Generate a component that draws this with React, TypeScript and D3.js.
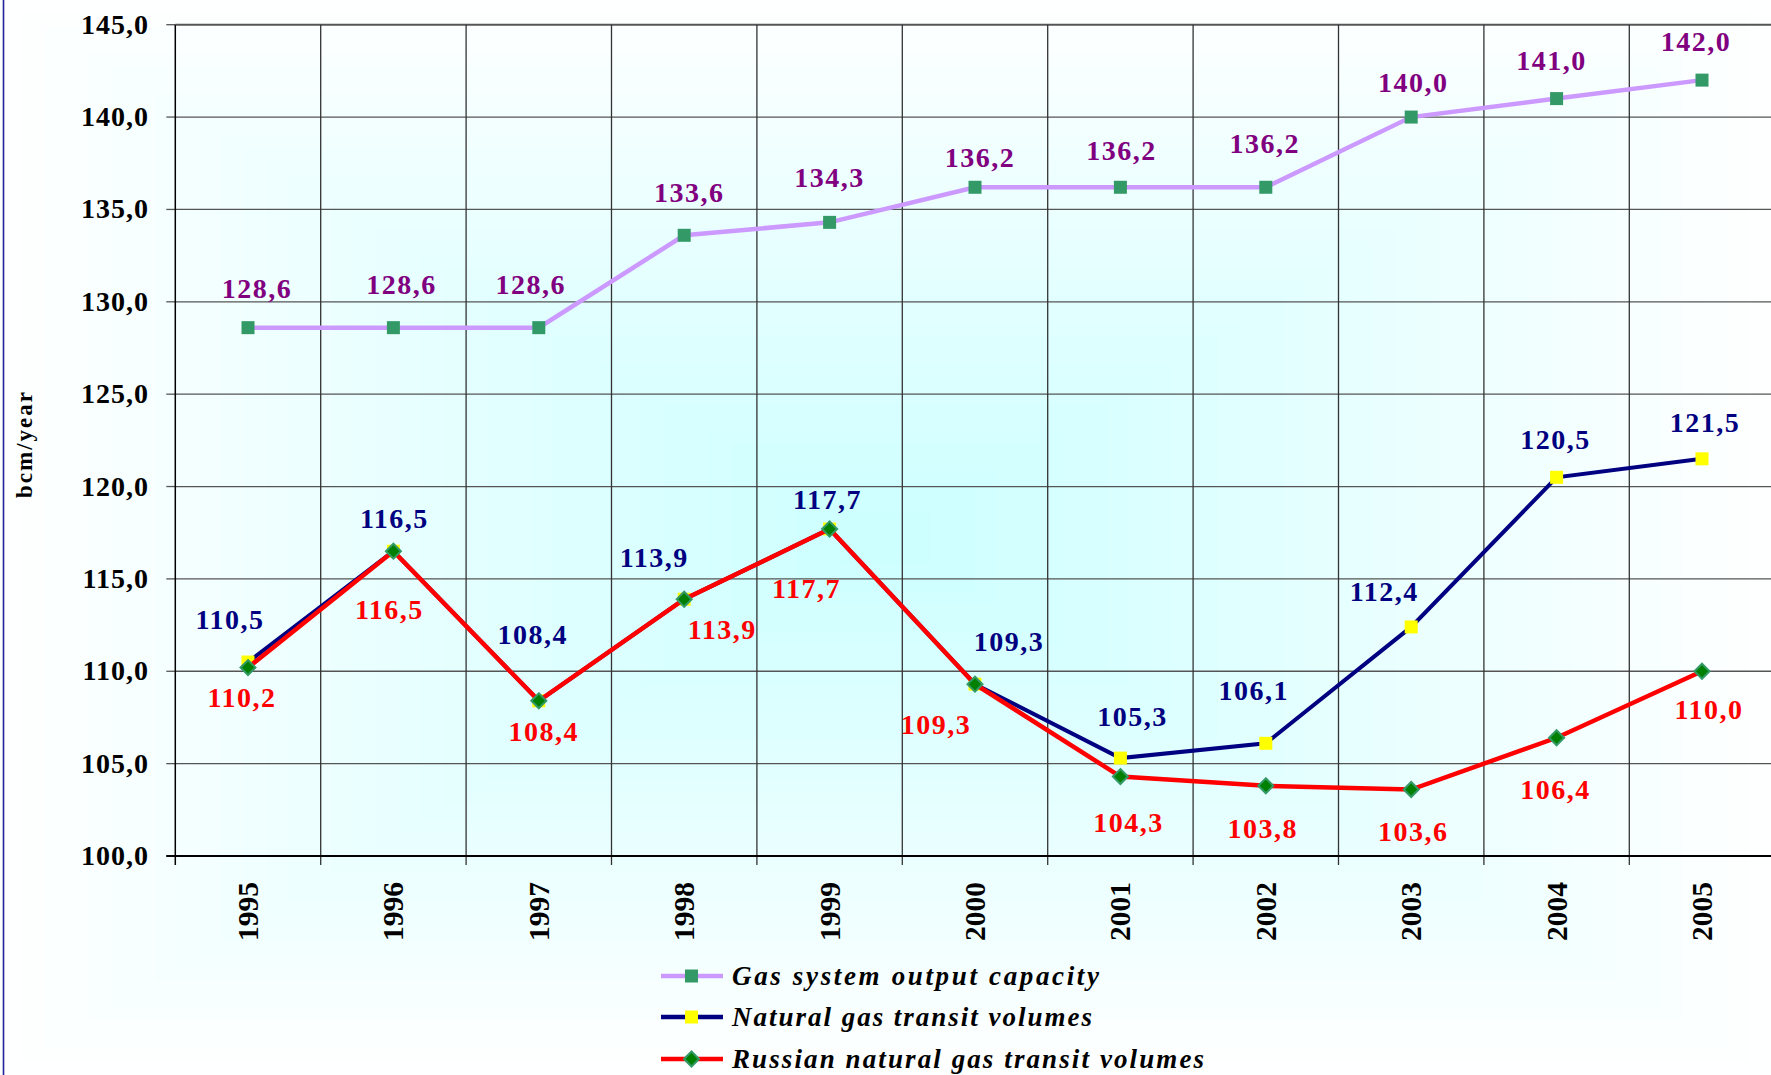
import React from 'react';
import * as d3 from 'd3';

const years = ['1995', '1996', '1997', '1998', '1999', '2000', '2001', '2002', '2003', '2004', '2005'];
const capacity = [128.6, 128.6, 128.6, 133.6, 134.3, 136.2, 136.2, 136.2, 140.0, 141.0, 142.0];
const transit = [110.5, 116.5, 108.4, 113.9, 117.7, 109.3, 105.3, 106.1, 112.4, 120.5, 121.5];
const russian = [110.2, 116.5, 108.4, 113.9, 117.7, 109.3, 104.3, 103.8, 103.6, 106.4, 110.0];
const yTicks = [100, 105, 110, 115, 120, 125, 130, 135, 140, 145];
const seriesNames = ['Gas system output capacity', 'Natural gas transit volumes', 'Russian natural gas transit volumes'];

// label offsets (px) relative to the point
const capDx = [9, 8, -8, 5, 0, 5, 1, -1, 2, -5, -6];
const capDy = [-39, -43, -43, -43, -45, -30, -37, -44, -35, -38, -39];
const trDx = [-18, 1, -6, -30, -2, 34, 12, -12, -27, -1, 3];
const trDy = [-43, -33, -66, -42, -30, -43, -42, -53, -35, -38, -36];
const ruDx = [-6, -4, 5, 38, -23, -39, 8, -3, 2, -1, 7];
const ruDy = [30, 58, 31, 30, 59, 40, 46, 43, 42, 52, 38];

const FONT = '"Liberation Serif", "Times New Roman", serif';

export default function App() {
  const W = 1771, H = 1075;
  const left = 175.3, right = 1774.7, top = 24.7, bottom = 856;
  const x = d3.scaleBand<string>().domain(years).range([left, right]);
  const y = d3.scaleLinear().domain([100, 145]).range([bottom, top]);
  const px = (i: number) => (x(years[i]) as number) + x.bandwidth() / 2;
  const line = d3.line<number>().x((_, i) => px(i)).y((d) => y(d));
  const fmt = (v: number) => d3.format('.1f')(v).replace('.', ',');

  // rectangular "from center" gradient as nested bands
  const N = 40;
  const cxB = W / 2, cyB = H / 2;
  const interp = d3.interpolateRgb('#ffffff', '#ccffff');
  const bands = d3.range(N).map((i) => {
    const t = i / N;
    const s = 1 - t;
    return { x: cxB - cxB * s, y: cyB - cyB * s, w: W * s, h: H * s, fill: interp(t + 0.5 / N) };
  });

  const boundaries = d3.range(years.length + 1).map((i) => left + i * x.step());

  const diamond = (r: number) => `M0,${-r}L${r},0L0,${r}L${-r},0Z`;

  const labelStyle = { fontFamily: FONT, fontWeight: 700, fontSize: 28, letterSpacing: 1.5 } as const;

  const legendRows = [976, 1017, 1059];
  const legendWidths = [367, 360, 472];

  return (
    <svg width={W} height={H} style={{ position: 'absolute', left: 0, top: 0, display: 'block' }}>
      <g shapeRendering="crispEdges">
        {bands.map((b, i) => (
          <rect key={i} x={b.x} y={b.y} width={b.w} height={b.h} fill={b.fill} />
        ))}
      </g>
      {/* left frame line */}
      <line x1={3.5} x2={3.5} y1={0} y2={H} stroke="#22229a" strokeWidth={1.6} />

      {/* horizontal gridlines */}
      {yTicks.filter((t) => t !== 100).map((t) => (
        <line key={t} x1={left} x2={right} y1={y(t)} y2={y(t)} stroke="#555" strokeWidth={t === 145 ? 2 : 1.3} />
      ))}
      {/* vertical gridlines */}
      {boundaries.slice(1).map((b, i) => (
        <line key={i} x1={b} x2={b} y1={top} y2={bottom + 9} stroke="#333" strokeWidth={1.3} />
      ))}
      {/* y ticks */}
      {yTicks.map((t) => (
        <line key={t} x1={left - 9} x2={left} y1={y(t)} y2={y(t)} stroke="#555" strokeWidth={1.3} />
      ))}
      {/* axes */}
      <line x1={left} x2={left} y1={top} y2={bottom + 9} stroke="#000" strokeWidth={1.5} />
      <line x1={left - 9} x2={right} y1={bottom} y2={bottom} stroke="#000" strokeWidth={2.2} />

      {/* y tick labels */}
      {yTicks.map((t) => (
        <text key={t} x={149} y={y(t) + 9} textAnchor="end" fontFamily={FONT} fontWeight={700} fontSize={28} letterSpacing={1}>
          {fmt(t)}
        </text>
      ))}
      {/* x labels */}
      {years.map((yr, i) => (
        <text key={yr} transform={`translate(${px(i) + 10},${882}) rotate(-90)`} textAnchor="end" fontFamily={FONT} fontWeight={700} fontSize={29.5}>
          {yr}
        </text>
      ))}
      {/* y axis title */}
      <text transform={`translate(32,444) rotate(-90)`} textAnchor="middle" fontFamily={FONT} fontWeight={700} fontSize={23} letterSpacing={2}>
        bcm/year
      </text>

      {/* capacity series */}
      <path d={line(capacity) || ''} fill="none" stroke="#cc99ff" strokeWidth={4.5} />
      {capacity.map((v, i) => (
        <rect key={i} x={px(i) - 6.5} y={y(v) - 6.5} width={13} height={13} fill="#339966" />
      ))}
      {/* transit series */}
      <path d={line(transit) || ''} fill="none" stroke="#000080" strokeWidth={4} />
      {transit.map((v, i) => (
        <rect key={i} x={px(i) - 6.5} y={y(v) - 6.5} width={13} height={13} fill="#ffff00" />
      ))}
      {/* russian series */}
      <path d={line(russian) || ''} fill="none" stroke="#ff0000" strokeWidth={4.5} />
      {russian.map((v, i) => (
        <path key={i} d={diamond(7.5)} transform={`translate(${px(i)},${y(v)})`} fill="#008000" stroke="#339966" strokeWidth={2} />
      ))}

      {/* data labels */}
      {capacity.map((v, i) => (
        <text key={'c' + i} x={px(i) + capDx[i]} y={y(v) + capDy[i] + 9.5} textAnchor="middle" fill="#800080" style={labelStyle}>
          {fmt(v)}
        </text>
      ))}
      {transit.map((v, i) => (
        <text key={'t' + i} x={px(i) + trDx[i]} y={y(v) + trDy[i] + 9.5} textAnchor="middle" fill="#000080" style={labelStyle}>
          {fmt(v)}
        </text>
      ))}
      {russian.map((v, i) => (
        <text key={'r' + i} x={px(i) + ruDx[i]} y={y(v) + ruDy[i] + 9.5} textAnchor="middle" fill="#ff0000" style={labelStyle}>
          {fmt(v)}
        </text>
      ))}

      {/* legend */}
      {seriesNames.map((name, i) => {
        const ry = legendRows[i];
        const colors = ['#cc99ff', '#000080', '#ff0000'];
        return (
          <g key={name}>
            <line x1={661} x2={723} y1={ry} y2={ry} stroke={colors[i]} strokeWidth={4.5} />
            {i === 0 && <rect x={685} y={ry - 6.5} width={13} height={13} fill="#339966" />}
            {i === 1 && <rect x={685} y={ry - 6.5} width={13} height={13} fill="#ffff00" />}
            {i === 2 && <path d={diamond(7.5)} transform={`translate(${691.5},${ry})`} fill="#008000" stroke="#339966" strokeWidth={2} />}
            <text x={732} y={ry + 9} fontFamily={FONT} fontWeight={700} fontStyle="italic" fontSize={27} textLength={legendWidths[i]} lengthAdjust="spacing">
              {name}
            </text>
          </g>
        );
      })}
    </svg>
  );
}
